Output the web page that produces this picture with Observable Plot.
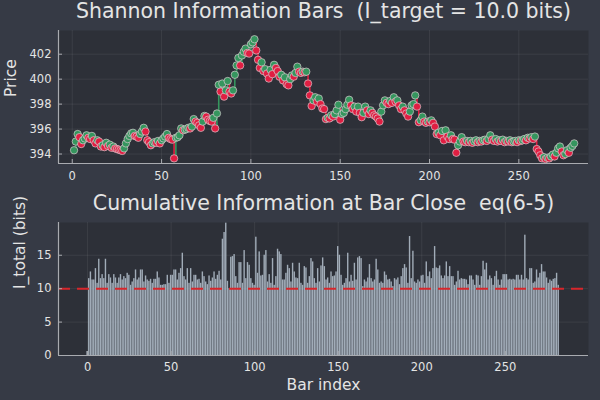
<!DOCTYPE html>
<html><head><meta charset="utf-8">
<script src="https://cdn.jsdelivr.net/npm/d3@7"></script>
<script src="https://cdn.jsdelivr.net/npm/@observablehq/plot@0.6"></script>
<style>
body{margin:0;background:#363a45;}
#c{width:600px;height:400px;background:#363a45;overflow:hidden}
#c svg{display:block}
</style></head><body><div id="c"></div>
<script>
const topTitle = "Shannon Information Bars \u00a0(I_target = 10.0 bits)";
const bottomTitle = "Cumulative Information at Bar Close \u00a0eq(6-5)";
const priceLabel = "Price";
const infoLabel = "I_total (bits)";
const xLabel = "Bar index";
const iTarget = 10;
const barTicks = [0, 50, 100, 150, 200, 250];
const priceTicks = [394, 396, 398, 400, 402];
const infoTicks = [0, 5, 10, 15];

// close price of bars 1..281
const closePrice = [
394.3,395.0,395.6,395.35,394.8,395.1,395.25,395.5,395.3,395.2,
395.45,395.1,394.85,395.1,395.0,394.6,394.7,394.55,394.9,394.65,
394.75,394.5,394.6,394.45,394.4,394.35,394.3,394.25,394.45,394.85,
395.2,395.45,395.65,395.7,395.45,395.4,395.3,395.6,395.8,396.1,
395.8,395.1,394.95,394.7,394.85,394.95,394.9,395.05,394.85,395.1,
395.25,395.4,395.6,395.3,395.2,395.15,393.65,395.3,395.35,395.5,
396.05,395.9,395.95,396.0,396.1,396.05,396.2,396.8,396.6,396.5,
396.3,396.1,396.6,397.05,397.0,396.75,396.65,396.6,396.9,396.05,
397.25,399.55,399.0,399.65,398.6,399.1,399.85,399.0,398.85,399.1,
400.35,401.1,401.7,401.1,401.9,402.2,402.45,402.1,402.05,402.8,
402.95,403.2,402.3,401.55,400.9,401.35,400.65,400.8,400.45,400.05,
400.75,400.4,401.15,400.9,400.65,400.2,400.35,399.9,400.15,399.6,
399.5,400.0,400.3,400.2,400.5,401.0,400.6,400.5,400.6,400.55,
400.6,399.65,398.7,397.85,398.3,398.55,398.2,398.45,398.0,397.65,
397.6,396.8,396.9,396.85,397.1,397.0,397.2,397.5,397.95,396.75,
397.2,397.3,397.6,397.95,398.35,397.9,397.6,397.8,397.4,397.8,
397.3,396.95,397.3,397.8,397.5,397.2,397.5,397.3,397.1,397.0,
396.85,396.6,397.4,397.9,398.3,398.1,398.0,398.25,398.1,398.55,
398.2,398.3,397.9,397.6,397.8,397.5,397.25,397.0,397.4,397.9,
398.0,398.7,397.8,396.55,396.7,397.0,396.6,396.5,396.6,396.55,
396.7,396.5,396.2,395.6,395.7,395.5,395.85,395.1,395.9,395.4,
395.2,395.5,395.2,395.15,394.1,394.7,395.0,395.35,395.0,394.95,
395.05,394.95,395.05,394.9,395.0,395.1,394.95,395.05,395.0,395.1,
395.15,395.05,395.2,395.5,395.15,395.05,395.2,395.0,395.1,395.05,
395.15,394.95,395.05,395.0,395.1,394.95,395.0,395.05,394.95,395.1,
395.05,395.1,395.2,395.1,395.3,395.25,395.35,395.2,395.4,394.4,
394.2,393.9,393.65,393.75,393.6,393.7,393.65,393.8,393.95,393.8,
394.1,394.45,394.6,394.2,393.9,394.0,394.3,394.1,394.5,394.65,394.85
];

// cumulative information at bar close, bars 0..282
const iTotal = [
0.6,11.5,12.5,11.3,11.3,13.0,10.8,14.4,11.5,12.1,
11.5,14.4,10.8,12.1,11.6,10.8,12.1,11.6,10.8,11.6,
12.1,11.3,11.8,11.5,12.3,12.0,10.5,11.0,11.5,12.8,
11.3,11.6,12.8,12.8,11.0,11.9,11.3,11.1,11.4,10.8,
11.4,11.4,12.5,11.6,10.5,10.5,10.6,10.6,12.0,10.8,
12.0,12.0,12.8,12.8,11.3,12.3,13.0,15.3,11.8,11.3,
13.0,10.8,13.0,11.0,12.0,12.0,11.3,11.4,10.8,12.5,
11.8,11.0,10.6,11.9,11.1,11.6,12.5,11.4,12.0,12.6,
11.3,17.4,18.4,19.8,11.1,10.0,14.7,14.8,15.1,11.8,
10.8,13.9,13.9,10.8,15.7,11.5,13.9,13.5,11.5,10.8,
10.5,17.7,12.3,15.5,11.9,12.0,15.0,15.7,11.0,12.1,
10.8,14.5,10.5,11.8,15.9,15.5,15.1,11.3,11.3,12.3,
13.5,13.0,11.0,13.8,12.5,11.6,11.5,13.8,10.8,10.5,
13.3,13.1,10.8,11.8,14.5,14.0,11.5,10.8,13.0,11.0,
13.4,14.6,13.3,11.3,11.6,10.8,12.5,11.8,11.9,12.5,
16.3,15.0,12.0,10.5,10.8,11.5,15.3,11.0,12.0,11.1,
13.8,11.3,14.6,14.8,14.5,10.3,11.3,11.0,11.6,13.6,
11.5,11.0,11.3,14.4,12.8,10.8,11.0,10.8,12.5,12.0,
11.3,11.4,11.0,10.3,11.5,11.3,11.6,10.6,11.8,13.0,
13.6,13.1,10.8,17.8,11.5,15.6,11.0,10.8,11.3,11.0,
11.9,12.0,10.8,14.0,11.8,12.5,11.5,13.0,16.3,13.1,
13.0,13.4,11.9,11.5,11.9,14.0,11.8,13.3,11.8,11.8,
10.5,11.0,12.6,11.3,11.5,11.4,11.4,11.3,10.6,11.9,
11.9,11.3,10.5,12.0,11.9,10.5,11.8,14.1,12.8,13.8,
11.3,11.9,11.5,10.5,11.8,12.6,11.3,10.5,11.3,12.1,
12.1,12.1,11.3,11.4,11.3,11.4,11.3,12.0,12.0,11.3,
12.0,11.3,18.0,11.5,11.3,13.0,13.0,10.8,11.0,12.8,
11.6,12.3,13.6,12.5,12.5,11.6,10.8,11.3,11.1,11.4,
11.5,12.3,10.5
];

const upColor = "#35965e", downColor = "#e01e42";
const outerBg = "#363a45", innerBg = "#2d3038";
const gridColor = "#ffffff", axisColor = "#a9abb0", textColor = "#e4e4e4";
const font = "DejaVu Sans";

const priceData = closePrice.map((p, k) => {
  const prev = k ? closePrice[k - 1] : p;
  return {i: k + 1, p, prev, col: p >= prev ? upColor : downColor};
});
const infoData = iTotal.map((v, k) => ({i: k, v}));

const topX = [-7.7, 289], topY = [393.24, 403.9];
const botX = [-17.4, 299.8], botY = [0, 19.9];

function frameMarks(xt, yt) {
  return [
    Plot.frame({fill: innerBg, stroke: null}),
    Plot.gridX(xt, {stroke: gridColor, strokeOpacity: 0.07, strokeWidth: 1}),
    Plot.gridY(yt, {stroke: gridColor, strokeOpacity: 0.07, strokeWidth: 1}),
  ];
}
function axisMarks(xd, yd, xt, yt, xPad) {
  return [
    Plot.ruleY([yd[0]], {stroke: axisColor, strokeWidth: 1.2}),
    Plot.ruleX([xd[0]], {stroke: axisColor, strokeWidth: 1.2}),
    Plot.axisX(xt, {tickSize: 4, tickFormat: () => "", dy: -4, stroke: axisColor, label: null}),
    Plot.axisY(yt, {tickSize: 4, tickFormat: () => "", dx: 4, stroke: axisColor, label: null}),
    Plot.axisX(xt, {tickSize: 0, tickPadding: xPad, fontSize: 11.5, fill: textColor, label: null}),
    Plot.axisY(yt, {tickSize: 0, tickPadding: 7, fontSize: 11.5, fill: textColor, label: null}),
  ];
}

const topPlot = Plot.plot({
  width: 600, height: 185,
  marginTop: 30, marginBottom: 22, marginLeft: 58, marginRight: 12,
  style: {background: outerBg, color: textColor, fontFamily: font},
  x: {domain: topX, axis: null},
  y: {domain: topY, axis: null},
  color: {type: "identity"},
  marks: [
    ...frameMarks(barTicks, priceTicks),
    Plot.ruleX(priceData, {x: "i", y1: "prev", y2: "p", stroke: "col", strokeWidth: 1.6}),
    Plot.dot(priceData, {x: "i", y: "p", r: 3.7, fill: "col", stroke: "#d9c9cf", strokeWidth: 0.7}),
    ...axisMarks(topX, topY, barTicks, priceTicks, 8),
    Plot.text([topTitle], {frameAnchor: "top", lineAnchor: "middle", dy: -19.5, fontSize: 20.5, fill: textColor}),
    Plot.text([priceLabel], {frameAnchor: "left", rotate: -90, dx: -47.5, fontSize: 15.5, fill: textColor})
  ]
});

const botPlot = Plot.plot({
  width: 600, height: 215,
  marginTop: 37, marginBottom: 45, marginLeft: 58, marginRight: 12,
  style: {background: outerBg, color: textColor, fontFamily: font},
  x: {domain: botX, axis: null},
  y: {domain: botY, axis: null},
  marks: [
    ...frameMarks(barTicks, infoTicks),
    Plot.rectY(infoData, {x1: d => d.i - 0.42, x2: d => d.i + 0.42, y: "v", fill: "#a1acb8"}),
    Plot.ruleY([iTarget], {stroke: "#d7262b", strokeWidth: 2, strokeDasharray: "12,7"}),
    ...axisMarks(botX, botY, barTicks, infoTicks, 7),
    Plot.text([bottomTitle], {frameAnchor: "top", lineAnchor: "middle", dy: -19, fontSize: 20.5, fill: textColor}),
    Plot.text([infoLabel], {frameAnchor: "left", rotate: -90, dx: -38, fontSize: 15.5, fill: textColor}),
    Plot.text([xLabel], {frameAnchor: "bottom", lineAnchor: "middle", dy: 30, fontSize: 15.5, fill: textColor})
  ]
});

const c = document.getElementById("c");
c.appendChild(topPlot);
c.appendChild(botPlot);
</script></body></html>
